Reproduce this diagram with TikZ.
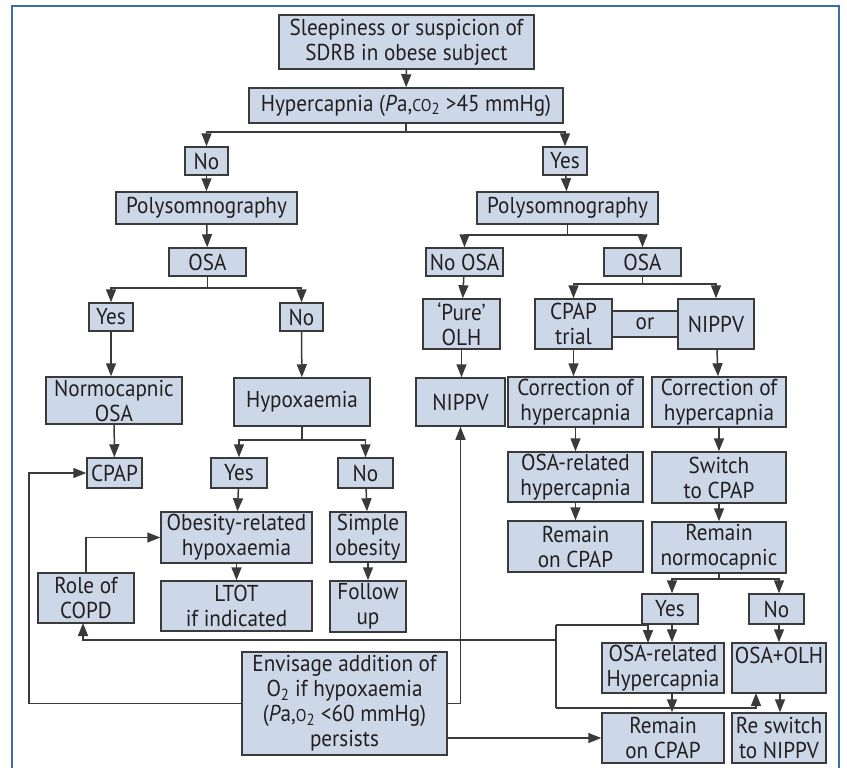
\documentclass[tikz,border=0pt]{standalone}
\usepackage{fontspec}
\setmainfont[FakeStretch=0.92]{PT Sans}
\usetikzlibrary{arrows.meta,calc}
\definecolor{boxfill}{HTML}{CCD8E8}
\definecolor{boxline}{HTML}{3A3A3A}
\definecolor{txt}{HTML}{231F20}
\definecolor{framec}{HTML}{3C6FA8}
\newcommand{\smc}[1]{{\fontsize{17}{17}\selectfont #1}}
\begin{document}
\begin{tikzpicture}[x=1pt,y=-1pt,
  font=\fontsize{23}{25}\selectfont,
  box/.style={draw=boxline, fill=boxfill, line width=1.5pt, inner sep=0pt, align=center, text=txt},
  conn/.style={draw=boxline, line width=1.5pt, -{Triangle[length=13pt,width=10pt]}},
  plain/.style={draw=boxline, line width=1.5pt}]
\useasboundingbox (0,0) rectangle (847,768);
\fill[white] (0,0) rectangle (847,768);
\draw[framec, line width=2pt] (12,768) -- (12,6) -- (839,6) -- (839,768);

% nodes
\node[box, minimum width=255, minimum height=54] (top) at (406.5,42) {Sleepiness or suspicion of\\SDRB in obese subject};
\node[box, minimum width=314, minimum height=35] (hyper) at (406,105.5) {Hypercapnia (\textit{P}a,\smc{CO}\textsubscript{2} >45 mmHg)};
\node[box, minimum width=43, minimum height=28] (noA) at (206.5,161) {No};
\node[box, minimum width=44, minimum height=28] (yesA) at (565,161) {Yes};
\node[box, minimum width=181, minimum height=32] (polyL) at (206.5,208) {Polysomnography};
\node[box, minimum width=181, minimum height=32] (polyR) at (567.5,208) {Polysomnography};
\node[box, minimum width=77, minimum height=28] (osaL) at (207.5,262) {OSA};
\node[box, minimum width=77, minimum height=28] (noosa) at (464.5,262) {No OSA};
\node[box, minimum width=77, minimum height=28] (osaR) at (642.5,262) {OSA};
\node[box, minimum width=44, minimum height=28] (yesL) at (111,317) {Yes};
\node[box, minimum width=43, minimum height=28] (noL) at (301.5,317) {No};
\node[box, minimum width=77, minimum height=50] (pure) at (461.5,324) {‘Pure’\\OLH};
\node[box, minimum width=77, minimum height=50] (trial) at (573.5,324) {CPAP\\trial};
\node[box, minimum width=66, minimum height=26] (or) at (645,324) {or};
\node[box, minimum width=76, minimum height=50] (nippvR) at (716,324) {NIPPV};
\node[box, minimum width=136, minimum height=47] (normo) at (114,400.5) {Normocapnic\\OSA};
\node[box, minimum width=136, minimum height=48] (hypox) at (302,402) {Hypoxaemia};
\node[box, minimum width=89, minimum height=48] (nippvL) at (460.5,402) {NIPPV};
\node[box, minimum width=135, minimum height=50] (corr1) at (575.5,402) {Correction of\\hypercapnia};
\node[box, minimum width=134, minimum height=50] (corr2) at (719,402) {Correction of\\hypercapnia};
\node[box, minimum width=55, minimum height=30] (cpapL) at (114.5,473) {CPAP};
\node[box, minimum width=56, minimum height=30] (yesH) at (239,473) {Yes};
\node[box, minimum width=55, minimum height=30] (noH) at (365.5,473) {No};
\node[box, minimum width=135, minimum height=50] (osarel1) at (575.5,477) {OSA-related\\hypercapnia};
\node[box, minimum width=134, minimum height=51] (switch) at (719,477.5) {Switch\\to CPAP};
\node[box, minimum width=151, minimum height=51] (obes) at (236.5,537.5) {Obesity-related\\hypoxaemia};
\node[box, minimum width=76, minimum height=50] (simple) at (368,537) {Simple\\obesity};
\node[box, minimum width=135, minimum height=51] (remain1) at (575.5,546.5) {Remain\\on CPAP};
\node[box, minimum width=134, minimum height=51] (remnorm) at (719,547.5) {Remain\\normocapnic};
\node[box, minimum width=96, minimum height=50] (copd) at (86,598) {Role of\\COPD};
\node[box, minimum width=151, minimum height=50] (ltot) at (236.5,606) {LTOT\\if indicated};
\node[box, minimum width=76, minimum height=51] (follow) at (368,606.5) {Follow\\up};
\node[box, minimum width=56, minimum height=30] (yesN) at (670,609) {Yes};
\node[box, minimum width=55, minimum height=30] (noN) at (776.5,609) {No};
\node[box, minimum width=122, minimum height=50] (osarel2) at (663,668) {OSA-related\\Hypercapnia};
\node[box, minimum width=94, minimum height=50] (osaolh) at (779,668) {OSA+OLH\\\mbox{}};
\node[box, minimum width=205, minimum height=103] (env) at (344.5,703.5) {Envisage addition of\\O\textsubscript{2} if hypoxaemia\\(\textit{P}a,\smc{O}\textsubscript{2} <60 mmHg)\\persists};
\node[box, minimum width=122, minimum height=50] (remain2) at (663,738) {Remain\\on CPAP};
\node[box, minimum width=94, minimum height=50] (reswitch) at (779,738) {Re switch\\to NIPPV};

% coordinates
\coordinate (lc) at (29,473);
\coordinate (j1) at (556,640);
\coordinate (j2) at (556,625);
\coordinate (j3) at (556,708);
\coordinate (ya) at (672,624);
\coordinate (na) at (779,624);
\coordinate (oa) at (780,693);
\coordinate (cp) at (83,623);
\coordinate (yb) at (648,643);
\coordinate (ob) at (756,693);

% connectors
\draw[conn] (top) -- (hyper);
\draw[plain] (hyper.south) -- ++(0,8) coordinate (h1);
\draw[conn] (h1) -| (noA.north);
\draw[conn] (h1) -| (yesA.north);
\draw[conn] (noA) -- (polyL);
\draw[conn] (polyL) -- (osaL);
\draw[plain] (osaL.south) -- ++(0,11) coordinate (o1);
\draw[conn] (o1) -| (yesL.north);
\draw[conn] (o1) -| (noL.north);
\draw[conn] (yesL.south) -- (yesL.south |- normo.north);
\draw[conn] (normo) -- (cpapL);
\draw[conn] (noL) -- (hypox);
\draw[plain] (hypox.south) -- ++(0,13) coordinate (x1);
\draw[conn] (x1) -| (yesH.north);
\draw[conn] (x1) -| (noH.north);
\draw[conn] (yesH) -- (obes);
\draw[conn] (noH) -- (simple);
\draw[conn] (obes) -- (ltot);
\draw[conn] (simple) -- (follow);
\draw[conn] (copd.north) |- (obes.west);
\draw[conn] (yesA) -- (polyR);
\draw[plain] (polyR.south) -- ++(0,10) coordinate (p1);
\draw[conn] (p1) -| (noosa.north);
\draw[conn] (p1) -| (osaR.north);
\draw[conn] (noosa) -- (pure);
\draw[conn] (pure) -- (pure |- nippvL.north);
\draw[plain] (osaR.south) -- ++(0,7) coordinate (r1);
\draw[conn] (r1) -| (trial.north);
\draw[conn] (r1) -| (nippvR.north);
\draw[conn] (trial) -- (trial |- corr1.north);
\draw[conn] (nippvR) -- (corr2);
\draw[conn] (corr1) -- (osarel1);
\draw[conn] (osarel1) -- (remain1);
\draw[conn] (corr2) -- (switch);
\draw[conn] (switch) -- (remnorm);
\draw[plain] (remnorm.south) -- ++(0,5) coordinate (n1);
\draw[conn] (n1) -| (ya |- yesN.north);
\draw[conn] (n1) -| (na |- noN.north);
\draw[conn] (ya) -- (ya |- osarel2.north);
\draw[conn] (na) -- (na |- osaolh.north);
\draw[conn] (ya |- osarel2.south) -- (ya |- remain2.north);
\draw[conn] (oa) -- (oa |- reswitch.north);
% feedback lines
\draw[conn] (env.west) -| (lc) -- (cpapL.west);
\draw[conn] (env.east) -| (nippvL.south);
\draw[conn] (env.east |- remain2.west) -- (remain2.west);
\draw[conn] (j1) -| (cp);
\draw[plain] (j3) -- (j2);
\draw[conn] (j2) -| (yb);
\draw[conn] (j3) -| (ob);
\end{tikzpicture}
\end{document}
